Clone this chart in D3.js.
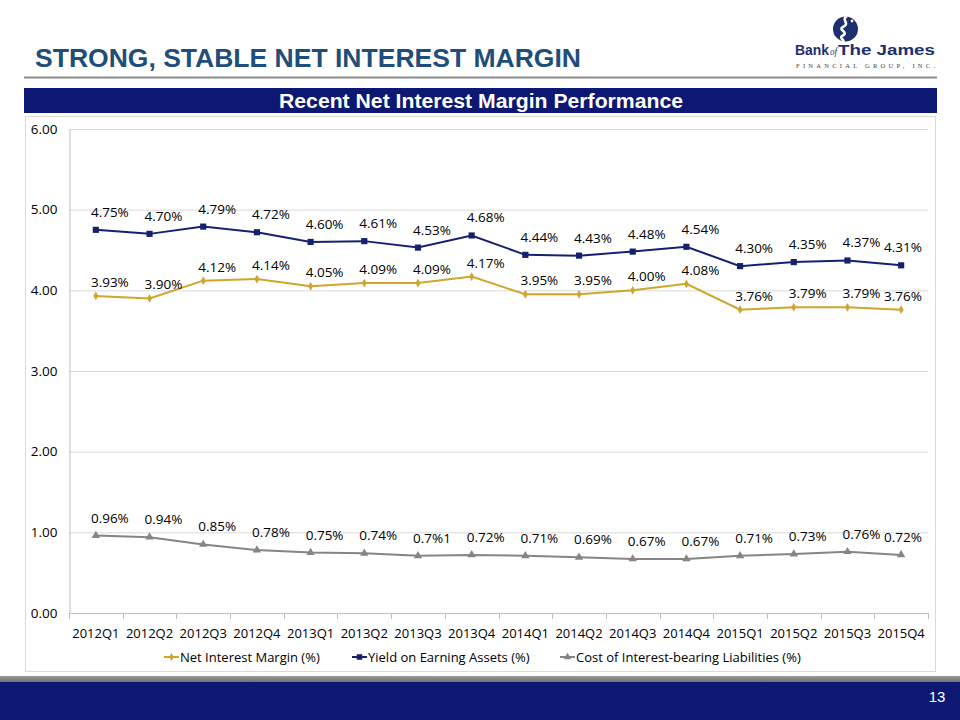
<!DOCTYPE html>
<html><head><meta charset="utf-8">
<script src="https://cdn.jsdelivr.net/npm/d3@7/dist/d3.min.js"></script>
<style>
body{margin:0;background:#fff;}
svg{display:block;}
</style></head>
<body>
<svg id="c" width="960" height="720"></svg>
<script>
const categories = ["2012Q1","2012Q2","2012Q3","2012Q4","2013Q1","2013Q2","2013Q3","2013Q4","2014Q1","2014Q2","2014Q3","2014Q4","2015Q1","2015Q2","2015Q3","2015Q4"];
const nim   = [3.93,3.90,4.12,4.14,4.05,4.09,4.09,4.17,3.95,3.95,4.00,4.08,3.76,3.79,3.79,3.76];
const yieldEA = [4.75,4.70,4.79,4.72,4.60,4.61,4.53,4.68,4.44,4.43,4.48,4.54,4.30,4.35,4.37,4.31];
const cost  = [0.96,0.94,0.85,0.78,0.75,0.74,0.71,0.72,0.71,0.69,0.67,0.67,0.71,0.73,0.76,0.72];
const costLabels = ["0.96%","0.94%","0.85%","0.78%","0.75%","0.74%","0.7%1","0.72%","0.71%","0.69%","0.67%","0.67%","0.71%","0.73%","0.76%","0.72%"];
const yTicks = [0,1,2,3,4,5,6];
const seriesNames = ["Net Interest Margin (%)","Yield on Earning Assets (%)","Cost of Interest-bearing Liabilities (%)"];

const svg = d3.select("#c");
const FONT = "'Open Sans', 'Noto Sans', sans-serif";
const NARROW = "'Liberation Sans Narrow', 'Arial Narrow', 'Liberation Sans', Arial, sans-serif";

// Header
svg.append("text").attr("x",35).attr("y",67)
  .attr("font-family",NARROW).attr("font-weight","bold").attr("font-size",26)
  .attr("fill","#1f4e7a").attr("textLength",546).attr("lengthAdjust","spacingAndGlyphs")
  .text("STRONG, STABLE NET INTEREST MARGIN");
svg.append("rect").attr("x",24).attr("y",76.5).attr("width",913).attr("height",2).attr("fill","#8c8c8c");

// Logo
const lg = svg.append("g");
lg.append("circle").attr("cx",845.5).attr("cy",29).attr("r",12.5).attr("fill","#1d2f6f");
lg.append("path").attr("d","M847,16 C840,20 851,23 843,27 C837,30 850,32 842,36 C839,38 845,40 843,42")
  .attr("fill","none").attr("stroke","#fff").attr("stroke-width",2.6);
lg.append("circle").attr("cx",852).attr("cy",21).attr("r",1.4).attr("fill","#fff");
lg.append("text").attr("x",795).attr("y",54.5)
  .attr("font-family",NARROW).attr("font-weight","bold").attr("font-size",15).attr("fill","#1d2f6f")
  .attr("textLength",34).attr("lengthAdjust","spacingAndGlyphs").text("Bank");
lg.append("text").attr("x",830).attr("y",54.5)
  .attr("font-family","'Liberation Serif', serif").attr("font-style","italic").attr("font-size",10).attr("fill","#1d2f6f")
  .attr("textLength",7).attr("lengthAdjust","spacingAndGlyphs").text("of");
lg.append("text").attr("x",838).attr("y",54.5)
  .attr("font-family",NARROW).attr("font-weight","bold").attr("font-size",15).attr("fill","#1d2f6f")
  .attr("textLength",97).attr("lengthAdjust","spacingAndGlyphs").text("The James");
lg.append("text").attr("x",796).attr("y",67.5).attr("font-family","'Liberation Serif', serif")
  .attr("font-size",6.5).attr("fill","#444").attr("textLength",139).attr("lengthAdjust","spacing")
  .text("FINANCIAL GROUP, INC.");

// Band
svg.append("rect").attr("x",24).attr("y",88).attr("width",913).attr("height",25).attr("fill","#0c1872");
svg.append("text").attr("x",481).attr("y",108).attr("text-anchor","middle")
  .attr("font-family",NARROW).attr("font-weight","bold").attr("font-size",20).attr("fill","#fff")
  .attr("textLength",404).attr("lengthAdjust","spacingAndGlyphs")
  .text("Recent Net Interest Margin Performance");

// Chart box
svg.append("rect").attr("x",25.5).attr("y",116.5).attr("width",910).attr("height",555)
  .attr("fill","#fff").attr("stroke","#d9d9d9").attr("stroke-width",1);

// Footer
const fg = svg.append("defs").append("linearGradient").attr("id","fgrad").attr("x1",0).attr("y1",0).attr("x2",0).attr("y2",1);
fg.append("stop").attr("offset","0%").attr("stop-color","#9a9a9a");
fg.append("stop").attr("offset","100%").attr("stop-color","#6a6a6a");
svg.append("rect").attr("x",0).attr("y",676).attr("width",960).attr("height",7).attr("fill","url(#fgrad)");
svg.append("rect").attr("x",0).attr("y",682).attr("width",960).attr("height",38).attr("fill","#0c1872");
svg.append("text").attr("x",937).attr("y",702).attr("text-anchor","middle")
  .attr("font-family",NARROW).attr("font-size",15).attr("fill","#fff").text("13");

// Scales
const L = 69, R = 928, T = 129, B = 613;
const x = d3.scaleBand().domain(categories).range([L,R]);
const cx = d => x(d) + x.bandwidth()/2;
const y = d3.scaleLinear().domain([0,6]).range([B,T]);

// Gridlines
svg.append("g").selectAll("line").data(yTicks.filter(t=>t>0)).join("line")
  .attr("x1",L).attr("x2",R).attr("y1",d=>y(d)+0.5).attr("y2",d=>y(d)+0.5)
  .attr("stroke","#d9d9d9").attr("stroke-width",1);

// Y axis
const yAxis = d3.axisLeft(y).tickValues(yTicks).tickFormat(d3.format(".2f")).tickSize(0).tickPadding(12);
const yg = svg.append("g").attr("transform",`translate(${L+0.5},0)`).call(yAxis);
yg.select(".domain").attr("stroke","#bfbfbf");
yg.selectAll("text").attr("font-family",FONT).attr("font-size",13.5).attr("fill","#000");

// X axis
const xAxis = d3.axisBottom(x).tickSize(0).tickPadding(15);
const xg = svg.append("g").attr("transform",`translate(0,${B+0.5})`).call(xAxis);
xg.select(".domain").attr("stroke","#bfbfbf").attr("d",`M${L},0H${R}`);
xg.selectAll("text").attr("font-family",FONT).attr("font-size",13).attr("fill","#000");
// boundary ticks
const bounds = categories.map(c=>x(c)).concat([R]);
svg.append("g").selectAll("line").data(bounds).join("line")
  .attr("x1",d=>Math.round(d)+0.5).attr("x2",d=>Math.round(d)+0.5).attr("y1",B).attr("y2",B+6)
  .attr("stroke","#bfbfbf");

// Series
const series = [
  {name:seriesNames[1], vals:yieldEA, labels:yieldEA.map(v=>v.toFixed(2)+"%"), color:"#152170", marker:"square", dy:-13},
  {name:seriesNames[0], vals:nim, labels:nim.map(v=>v.toFixed(2)+"%"), color:"#cfa52c", marker:"diamond", dy:-9},
  {name:seriesNames[2], vals:cost, labels:costLabels, color:"#858585", marker:"triangle", dy:-13}
];
const sym = {square:d3.symbolSquare, diamond:d3.symbolDiamond, triangle:d3.symbolTriangle};
const symSize = {square:38, diamond:22, triangle:30};

const line = d3.line().x((d,i)=>cx(categories[i])).y(d=>y(d));
series.forEach(s=>{
  const g = svg.append("g");
  g.append("path").attr("d",line(s.vals)).attr("fill","none").attr("stroke",s.color).attr("stroke-width",2);
  g.selectAll("path.m").data(s.vals).join("path").attr("class","m")
    .attr("transform",(d,i)=>`translate(${cx(categories[i])},${y(d)})`)
    .attr("d",d3.symbol().type(sym[s.marker]).size(symSize[s.marker])).attr("fill",s.color);
  g.selectAll("text").data(s.vals).join("text")
    .attr("x",(d,i)=>Math.min(cx(categories[i])+14, R-25))
    .attr("y",d=>y(d)+s.dy)
    .attr("text-anchor","middle").attr("font-family",FONT).attr("font-size",13.5).attr("fill","#000")
    .text((d,i)=>s.labels[i]);
});

// Legend
const legendItems = [
  {name:seriesNames[0], color:"#cfa52c", marker:"diamond", x:164},
  {name:seriesNames[1], color:"#152170", marker:"square", x:352},
  {name:seriesNames[2], color:"#858585", marker:"triangle", x:560}
];
const lgG = svg.append("g");
legendItems.forEach(it=>{
  const ly = 657;
  lgG.append("line").attr("x1",it.x).attr("x2",it.x+15).attr("y1",ly).attr("y2",ly)
    .attr("stroke",it.color).attr("stroke-width",2);
  lgG.append("path").attr("transform",`translate(${it.x+7.5},${ly})`)
    .attr("d",d3.symbol().type(sym[it.marker]).size(symSize[it.marker]*0.8)).attr("fill",it.color);
  lgG.append("text").attr("x",it.x+16).attr("y",ly+4.5).attr("font-family",FONT).attr("font-size",13)
    .attr("fill","#000").text(it.name);
});
</script>
</body></html>
